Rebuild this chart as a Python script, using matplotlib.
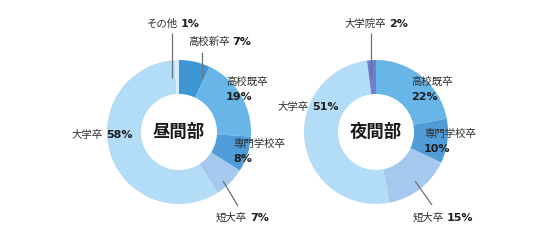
import matplotlib
matplotlib.use('Agg')
import matplotlib.pyplot as plt

plt.rcParams['font.family'] = ['Noto Sans CJK JP', 'DejaVu Sans']

W, H = 550, 244

# data
day_title = '昼間部'
day_labels = ['高校新卒', '高校既卒', '専門学校卒', '短大卒', '大学卒', 'その他']
day_values = [7, 19, 8, 7, 58, 1]
night_title = '夜間部'
night_labels = ['高校既卒', '専門学校卒', '短大卒', '大学卒', '大学院卒']
night_values = [22, 10, 15, 51, 2]

colors = {'高校新卒': '#3d97d7', '高校既卒': '#68b6e8', '専門学校卒': '#4f9cd8',
          '短大卒': '#a5c9ee', '大学卒': '#b3dcf6', 'その他': '#d8edfb',
          '大学院卒': '#6f7fcb'}

# label layout in pixels from the top-left: (x, y, stacked, leader line)
day_layout = {
    '高校新卒': (188, 42, False, ((202, 52), (202, 78))),
    '高校既卒': (226, 82, True, None),
    '専門学校卒': (233, 144, True, None),
    '短大卒': (216, 218, False, ((238, 206), (223, 181))),
    '大学卒': (72, 135, False, None),
    'その他': (147, 24, False, ((172, 33), (172, 78))),
}
night_layout = {
    '高校既卒': (411, 82, True, None),
    '専門学校卒': (424, 134, True, None),
    '短大卒': (413, 218, False, ((432, 205), (415, 181))),
    '大学卒': (278, 107, False, None),
    '大学院卒': (345, 24, False, ((371, 33), (371, 78))),
}

fig = plt.figure(figsize=(W / 100, H / 100), dpi=100)
ax = fig.add_axes([0, 0, 1, 1])


def donut(title, labels, values, center, layout):
    cx, cy = center
    ax.pie(values, colors=[colors[l] for l in labels], startangle=90,
           counterclock=False, radius=72, center=(cx, H - cy),
           wedgeprops=dict(width=34, linewidth=0))
    ax.text(cx, H - cy, title, ha='center', va='center', fontsize=12.5,
            fontweight='bold', color='#1a1a1a')
    for lab, val in zip(labels, values):
        x, y, stacked, leader = layout[lab]
        pct = '%d%%' % val
        if leader is not None:
            (x0, y0), (x1, y1) = leader
            ax.plot([x0, x1], [H - y0, H - y1], color='#707070', lw=0.9,
                    solid_capstyle='butt')
        if stacked:
            ax.text(x, H - y, lab, ha='left', va='center', fontsize=7.5,
                    color='#2e2e2e')
            ax.text(x, H - y - 15, pct, ha='left', va='center', fontsize=8,
                    fontweight='bold', family='DejaVu Sans', color='#1e1e1e')
        else:
            t = ax.text(x, H - y, lab, ha='left', va='center', fontsize=7.5,
                        color='#2e2e2e')
            ax.annotate(pct, xy=(1, 0.5), xycoords=t, xytext=(2, 0),
                        textcoords='offset points', ha='left', va='center',
                        fontsize=8, fontweight='bold', family='DejaVu Sans',
                        color='#1e1e1e')


donut(day_title, day_labels, day_values, (179, 132), day_layout)
donut(night_title, night_labels, night_values, (376, 132), night_layout)

ax.set_xlim(0, W)
ax.set_ylim(0, H)
ax.set_aspect('equal')
ax.axis('off')

fig.savefig('out.png', dpi=100)
